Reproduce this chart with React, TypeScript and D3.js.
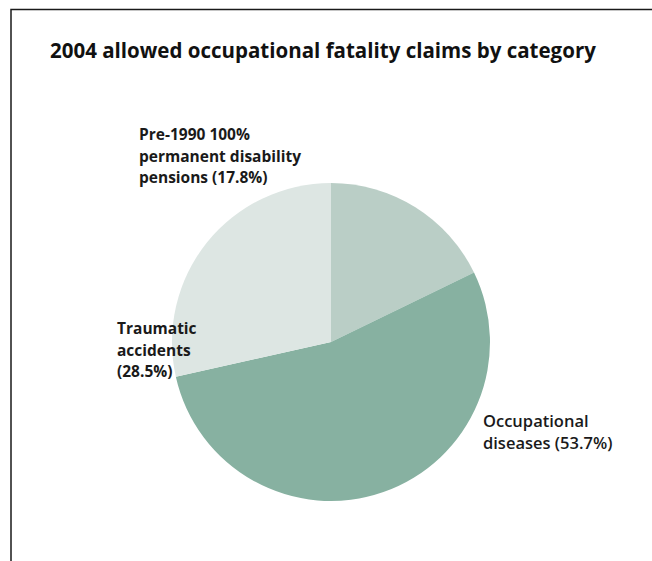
import React from "react";
import * as d3 from "d3";

const title = "2004 allowed occupational fatality claims by category";
const categories = [
  "Pre-1990 100% permanent disability pensions",
  "Occupational diseases",
  "Traumatic accidents",
];
const shares = [17.8, 53.7, 28.5];
const colors = ["#bacec6", "#87b1a1", "#dde6e3"];
const labelLines = [
  ["Pre-1990 100%", "permanent disability", "pensions (17.8%)"],
  ["Occupational", "diseases (53.7%)"],
  ["Traumatic", "accidents", "(28.5%)"],
];

function App() {
  const width = 652;
  const height = 561;
  const cx = 331;
  const cy = 342;
  const radius = 159;

  const pie = d3
    .pie<number>()
    .sort(null)
    .value((d) => d);
  const arcs = pie(shares);
  const arc = d3.arc<d3.PieArcDatum<number>>().innerRadius(0).outerRadius(radius);

  // label anchor spots beside each slice
  const labelPos = [
    { x: 139, y: 140, size: 15.5 },
    { x: 483, y: 427, size: 16.5 },
    { x: 117, y: 334, size: 15.5 },
  ];

  return (
    <svg
      width={width}
      height={height}
      style={{ position: "absolute", left: 0, top: 0, display: "block" }}
      fontFamily="'Open Sans', 'Noto Sans', sans-serif"
    >
      <rect width={width} height={height} fill="#fff" />
      <path
        d={`M11,${height} L11,9.5 L${width},9.5`}
        fill="none"
        stroke="#1a1a1a"
        strokeWidth={1.5}
      />
      <text x={50} y={58} fontSize={20.5} fontWeight="bold" fill="#111">
        {title}
      </text>
      <g transform={`translate(${cx},${cy})`}>
        {arcs.map((a, i) => (
          <path key={categories[i]} d={arc(a) || ""} fill={colors[i]} />
        ))}
      </g>
      {labelLines.map((lines, i) => (
        <text
          key={categories[i]}
          x={labelPos[i].x}
          y={labelPos[i].y}
          fontSize={labelPos[i].size}
          fontWeight={i === 1 ? 600 : "bold"}
          fill="#1a1a1a"
        >
          {lines.map((l, j) => (
            <tspan key={j} x={labelPos[i].x} dy={j === 0 ? 0 : 21.5}>
              {l}
            </tspan>
          ))}
        </text>
      ))}
    </svg>
  );
}

export default App;
